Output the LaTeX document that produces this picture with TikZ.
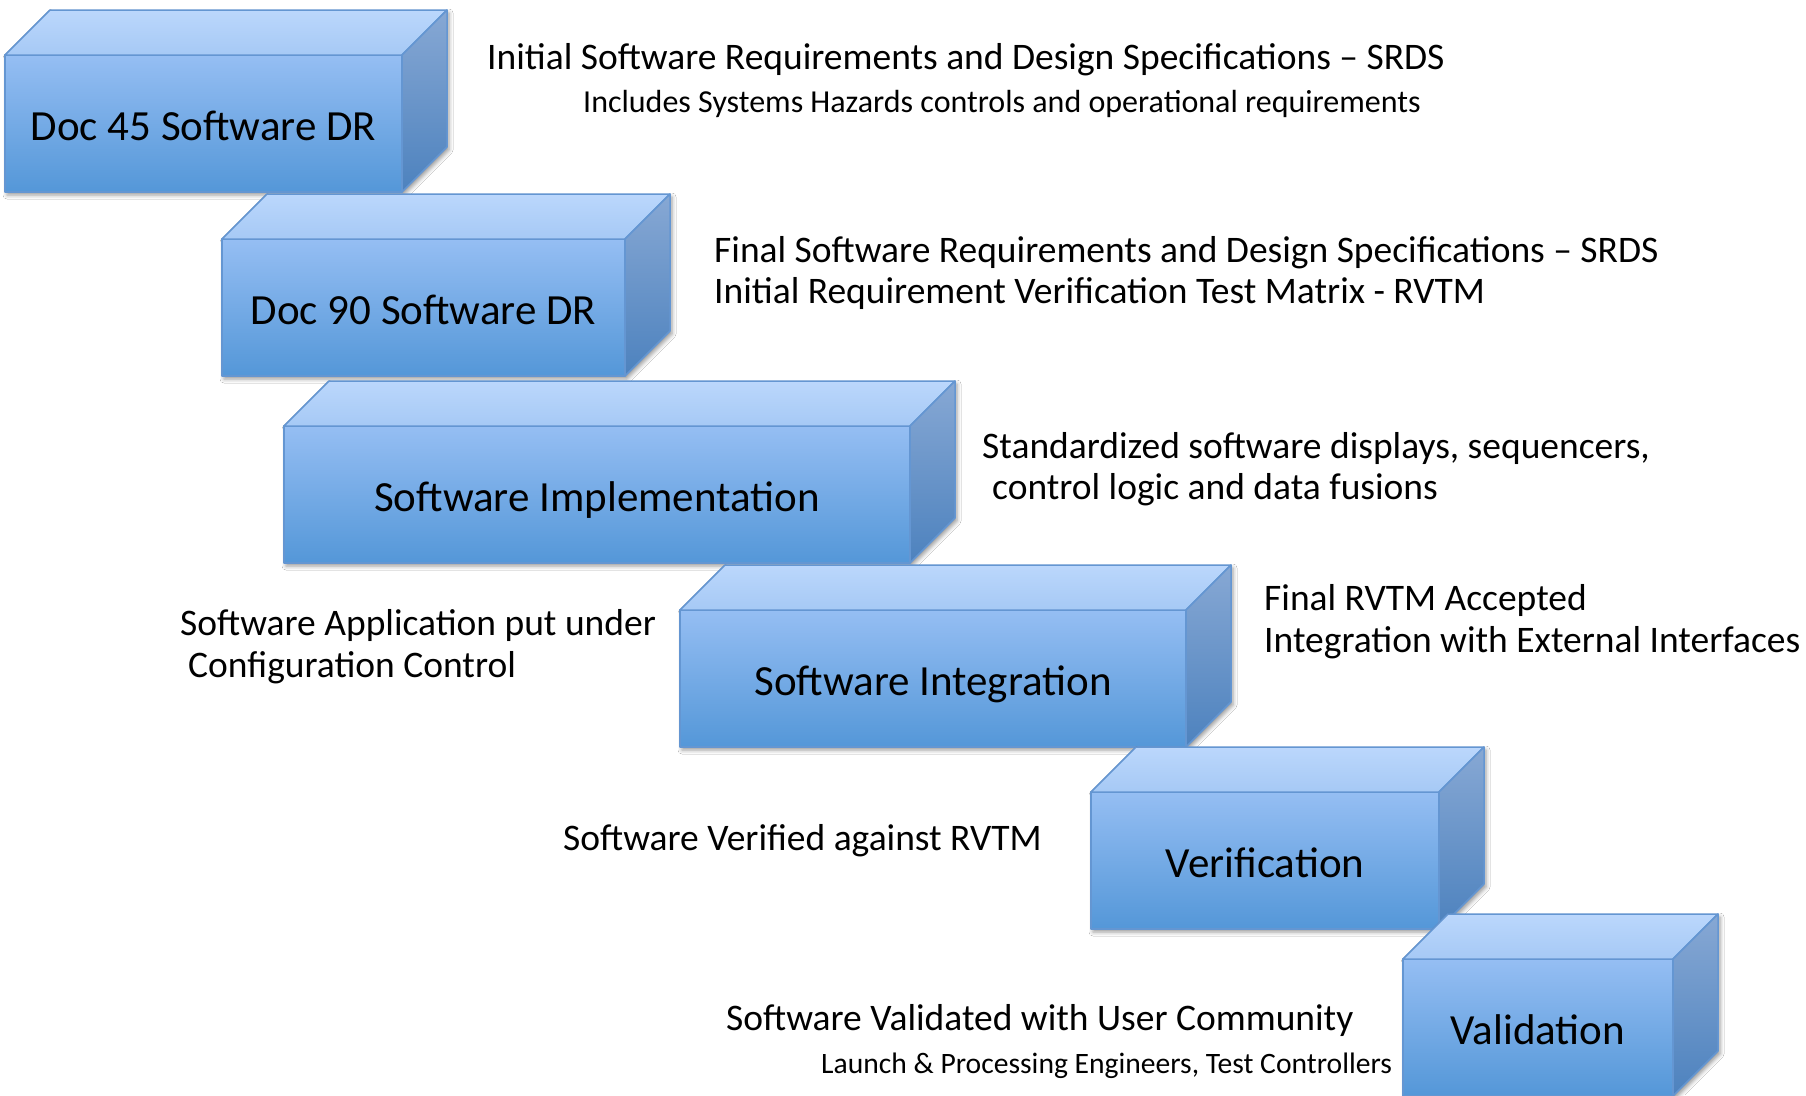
\documentclass[tikz,border=0pt]{standalone}
\usepackage{fontspec}
\setmainfont{Carlito}
\usetikzlibrary{calc,shadows.blur}
\definecolor{frontT}{RGB}{149,190,243}
\definecolor{frontB}{RGB}{84,151,216}
\definecolor{topT}{RGB}{187,215,252}
\definecolor{topB}{RGB}{166,201,245}
\definecolor{sideT}{RGB}{135,168,212}
\definecolor{sideB}{RGB}{77,130,190}
\definecolor{edgec}{RGB}{100,150,210}
\tikzset{
  face/.style={draw=edgec, line width=1.5pt, line join=round},
  frontface/.style={face, top color=frontT, bottom color=frontB, anchor=north west,
    minimum height=137pt, inner sep=0pt, outer sep=0pt, text height=34pt, text depth=0pt,
    font=\fontsize{43}{50}\selectfont, text=black},
  topface/.style={face, top color=topT, bottom color=topB},
  sideface/.style={face, top color=sideT, bottom color=sideB},
  desc/.style={anchor=west, inner sep=0pt, text height=24pt, text depth=0pt,
    font=\fontsize{37.5}{44}\selectfont},
  smalldesc/.style={anchor=west, inner sep=0pt, text height=20pt, text depth=0pt,
    font=\fontsize{32}{38}\selectfont},
  shadowpath/.style={blur shadow={shadow xshift=2pt, shadow yshift=-3pt,
    shadow blur radius=4pt, shadow opacity=40}},
}
\newcommand\cuboid[5]{%
  \path[shadowpath] (#2,#3) -- ++(45,-45) -- ++(#4,0) -- ++(0,137) -- ++(-45,45) -- ++(-#4,0) -- cycle;
  \node[frontface, minimum width=#4pt] (#1) at (#2,#3) {#5};
  \draw[topface] (#1.north west) -- ++(45,-45) -- ($(#1.north east)+(45,-45)$) -- (#1.north east) -- cycle;
  \draw[sideface] (#1.north east) -- ++(45,-45) -- ++(0,137) -- (#1.south east) -- cycle;
}
\begin{document}
\begin{tikzpicture}[x=1pt,y=-1pt]
\useasboundingbox[fill=white] (0,0) rectangle (1806,1095);
\cuboid{b1}{5}{55}{397}{Doc 45 Software DR}
\cuboid{b2}{222}{239}{403}{Doc 90 Software DR}
\cuboid{b3}{284}{426}{626}{Software Implementation}
\cuboid{b4}{680}{610}{506}{Software Integration}
\cuboid{b5}{1091}{792}{348}{Verification}
\cuboid{b6}{1403}{959}{270}{Validation}

\node[desc] (t1a) at (487,57) {Initial Software Requirements and Design Specifications – SRDS};
\node[smalldesc] (t1b) at (583,102) {Includes Systems Hazards controls and operational requirements};
\node[desc] (t2a) at (714,250) {Final Software Requirements and Design Specifications – SRDS};
\node[desc] (t2b) at (714,291) {Initial Requirement Verification Test Matrix - RVTM};
\node[desc] (t3a) at (982,446) {Standardized software displays, sequencers,};
\node[desc] (t3b) at (992,487) {control logic and data fusions};
\node[desc] (t4a) at (180,623) {Software Application put under};
\node[desc] (t4b) at (188,665) {Configuration Control};
\node[desc] (t5a) at (1264,598) {Final RVTM Accepted};
\node[desc] (t5b) at (1264,640) {Integration with External Interfaces};
\node[desc] (t6) at (563,838) {Software Verified against RVTM};
\node[desc] (t7a) at (726,1018) {Software Validated with User Community};
\node[smalldesc, font=\fontsize{29.6}{35}\selectfont] (t7b) at (821,1063) {Launch \& Processing Engineers, Test Controllers};
\end{tikzpicture}
\end{document}
